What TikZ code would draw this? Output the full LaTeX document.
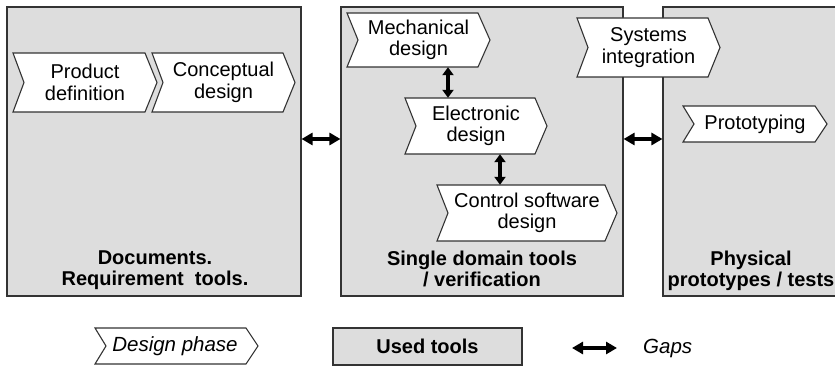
\documentclass[tikz,border=0pt]{standalone}
\usepackage{fontspec}
\setmainfont{Liberation Sans}
\usetikzlibrary{arrows.meta,calc}
\definecolor{toolgray}{HTML}{DDDDDD}
\definecolor{edgegray}{HTML}{333333}
\tikzset{
  toolbox/.style={draw=edgegray, line width=1.1pt, fill=toolgray, inner sep=0pt},
  phasebox/.style={draw=edgegray, line width=1.1pt, fill=white},
  phasetext/.style={inner sep=0pt, align=center, font=\fontsize{20}{21.5}\selectfont},
  tooltext/.style={inner sep=0pt, align=center, font=\fontsize{20}{20.5}\selectfont\bfseries},
  gap/.style={line width=3.6pt, {Triangle[length=11pt,width=12pt]}-{Triangle[length=11pt,width=12pt]}},
  link/.style={line width=3.4pt, {Triangle[length=8pt,width=11pt]}-{Triangle[length=8pt,width=11pt]}},
}
\newcommand\phasechev[6]{%
  \path[phasebox] (#2,#3) -- (#4-12,#3) -- (#4,{(#3+#5)/2}) -- (#4-12,#5) -- (#2,#5) -- (#2+11,{(#3+#5)/2}) -- cycle;
  \node[phasetext, minimum width={(#4-#2)*1pt}, minimum height={(#5-#3)*1pt}] (#1) at ({(#2+#4)/2},{(#3+#5)/2}) {#6};
}
\begin{document}
\begin{tikzpicture}[x=1pt,y=-1pt]
\useasboundingbox (0,0) rectangle (835,366);
\clip (0,0) rectangle (835,366);
% tool boxes
\node[toolbox, minimum width=294pt, minimum height=289pt] (b1) at (154,151.5) {};
\node[toolbox, minimum width=282pt, minimum height=289pt] (b2) at (482,151.5) {};
\node[toolbox, minimum width=182pt, minimum height=289pt] (b3) at (754,151.5) {};
% tool labels
\node[tooltext, anchor=north] (l1) at (155,251) {Documents.\\Requirement\ \ tools.};
\node[tooltext, anchor=north] (l2) at (482,251) {Single domain tools\\/ verification};
\node[tooltext, anchor=north] (l3) at (751,251) {Physical\\prototypes / tests};
% design phases
\phasechev{pd}{13}{53}{157}{112}{Product\\definition}
\phasechev{cd}{152}{53}{295}{112}{Conceptual\\design}
\phasechev{md}{347}{13}{490}{67}{Mechanical\\design}
\phasechev{ed}{405}{98}{547}{154}{Electronic\\design}
\phasechev{cs}{437}{185}{617}{241}{Control software\\design}
\phasechev{si}{577}{18}{720}{77}{Systems\\integration}
\phasechev{pt}{683}{106}{827}{142}{Prototyping}
% gaps
\draw[gap] ([yshift=12.5pt]b1.east) -- ([yshift=12.5pt]b2.west);
\draw[gap] ([yshift=12.5pt]b2.east) -- ([yshift=12.5pt]b3.west);
\coordinate (a1) at (448,0);
\coordinate (a2) at (500,0);
\draw[link] (md.south -| a1) -- (ed.north -| a1);
\draw[link] (ed.south -| a2) -- (cs.north -| a2);
% legend
\path[phasebox] (95,328) -- (246,328) -- (258,346) -- (246,364) -- (95,364) -- (106,346) -- cycle;
\node[inner sep=0pt, font=\fontsize{20.5}{21}\selectfont\itshape] (lgp) at (175,346) {Design phase};
\node[toolbox, minimum width=189pt, minimum height=37pt] (lgt) at (427.5,346.5) {};
\node[tooltext] (lgtt) at (lgt.center) {Used tools};
\coordinate (g1) at (572,348);
\coordinate (g2) at (617,348);
\draw[gap] (g1) -- (g2);
\node[inner sep=0pt, anchor=west, font=\fontsize{20.5}{21}\selectfont\itshape] (lgg) at (643,348) {Gaps};
\end{tikzpicture}
\end{document}
